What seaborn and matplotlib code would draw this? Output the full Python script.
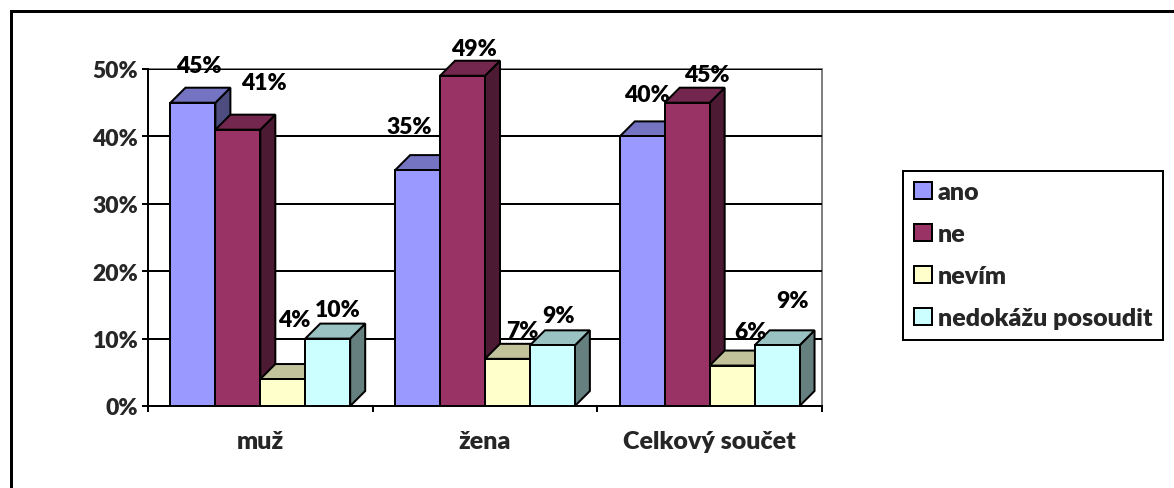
# Survey answers by group, drawn as Excel style 3D columns
import matplotlib
matplotlib.use('Agg')
import matplotlib.pyplot as plt
import matplotlib.colors as mcolors
from matplotlib.patches import Polygon, Rectangle
import pandas as pd
import seaborn as sns

groups = ['muž', 'žena', 'Celkový součet']
answers = ['ano', 'ne', 'nevím', 'nedokážu posoudit']
ano = [45, 35, 40]
ne = [41, 49, 45]
nevim = [4, 7, 6]
nedokazu = [10, 9, 9]
colors = ['#9999FF', '#993366', '#FFFFCC', '#CCFFFF']

# where each label sits relative to the top of its bar, in pixels
label_offsets = [
    [(6, -37), (26, -47), (11, -60), (10, -29)],
    [(-8, -44), (11, -27), (15, -28), (6, -30)],
    [(5, -42), (20, -28), (18, -34), (15, -45)],
]

W, H = 1174, 489
depth = 15
px = 0.72  # one pixel in points at dpi 100

df = pd.DataFrame({'group': groups, 'ano': ano, 'ne': ne, 'nevím': nevim, 'nedokážu posoudit': nedokazu})
df = df.melt(id_vars='group', var_name='answer', value_name='value')

sns.set_style('white')
plt.rcParams['font.family'] = ['Lato', 'DejaVu Sans']
plt.rcParams['font.weight'] = 'heavy'
plt.rcParams['font.size'] = 16.5

fig = plt.figure(figsize=(W / 100, H / 100), dpi=100)
ax = fig.add_axes([148 / W, 1 - 407 / H, (822 - 148) / W, (407 - 70) / H])

sns.barplot(df, x='group', y='value', hue='answer', hue_order=answers, order=groups,
            palette=colors, width=0.8, gap=0, saturation=1, edgecolor='black', linewidth=2 * px, ax=ax)
ax.set_xlim(-0.5, 2.5)
ax.set_ylim(0, 50)
ax.set_xlabel('')
ax.set_ylabel('')

# Axes and grid
ax.set_axisbelow(True)
ax.grid(axis='y', color='black', linewidth=2 * px)
ax.grid(axis='x', visible=False)
ax.set_yticks(range(0, 51, 10), [f'{v}%' for v in range(0, 51, 10)])
ax.set_xticks(range(3), groups)
ax.set_xticks([-0.5, 0.5, 1.5, 2.5], minor=True)
ax.tick_params(axis='y', length=4, width=2 * px, color='black', left=True, pad=3)
ax.tick_params(axis='x', which='major', length=0, pad=17, labelsize=18)
ax.tick_params(axis='x', which='minor', length=4, width=2 * px, color='black', bottom=True)
for side in ['left', 'bottom']:
    ax.spines[side].set_color('black')
    ax.spines[side].set_linewidth(2 * px)
for side in ['top', 'right']:
    ax.spines[side].set_color('#808080')
    ax.spines[side].set_linewidth(2 * px)
    ax.spines[side].set_zorder(0.5)

# 3D faces and labels, built from the bars seaborn made
dx = depth * 3 / (822 - 148)
dy = depth * 50 / (407 - 70)
for s, cont in enumerate(ax.containers):
    base = colors[s]
    rgb = mcolors.to_rgb(base)
    top_col = tuple(c * 0.76 for c in rgb)
    side_col = tuple(c * 0.5 for c in rgb)
    for g, bar in enumerate(cont):
        x0 = bar.get_x()
        x1 = x0 + bar.get_width()
        h = bar.get_height()
        z = 3 + s
        bar.set_zorder(z + 0.2)
        ax.add_patch(Polygon([(x1, 0), (x1 + dx, dy), (x1 + dx, h + dy), (x1, h)], closed=True,
                             facecolor=side_col, edgecolor='black', linewidth=2 * px, clip_on=False, zorder=z))
        ax.add_patch(Polygon([(x0, h), (x0 + dx, h + dy), (x1 + dx, h + dy), (x1, h)], closed=True,
                             facecolor=top_col, edgecolor='black', linewidth=2 * px, clip_on=False, zorder=z + 0.1))
        off = label_offsets[g][s]
        ax.annotate(f'{h:.0f}%', xy=((x0 + x1) / 2, h), xytext=(off[0], -off[1]), textcoords='offset pixels',
                    ha='center', va='center', color='black', zorder=20, annotation_clip=False)

# Legend on the right
handles, labels = ax.get_legend_handles_labels()
ax.legend(handles, labels, loc='upper left', bbox_to_anchor=(903 / W, 1 - 171.5 / H),
          bbox_transform=fig.transFigure, frameon=True, fancybox=False, edgecolor='black',
          framealpha=1, borderaxespad=0, handlelength=0.72, handleheight=0.68, handletextpad=0.24,
          labelspacing=0.8, borderpad=0.42, fontsize=18)
ax.get_legend().get_frame().set_linewidth(2 * px)

# Outer frame of the picture
fig.add_artist(Rectangle((10.5 / W, -0.1), 1.2, 1.1 - 11.5 / H, transform=fig.transFigure,
                         facecolor='none', edgecolor='black', linewidth=3 * px))

fig.savefig('out.png', dpi=100)
